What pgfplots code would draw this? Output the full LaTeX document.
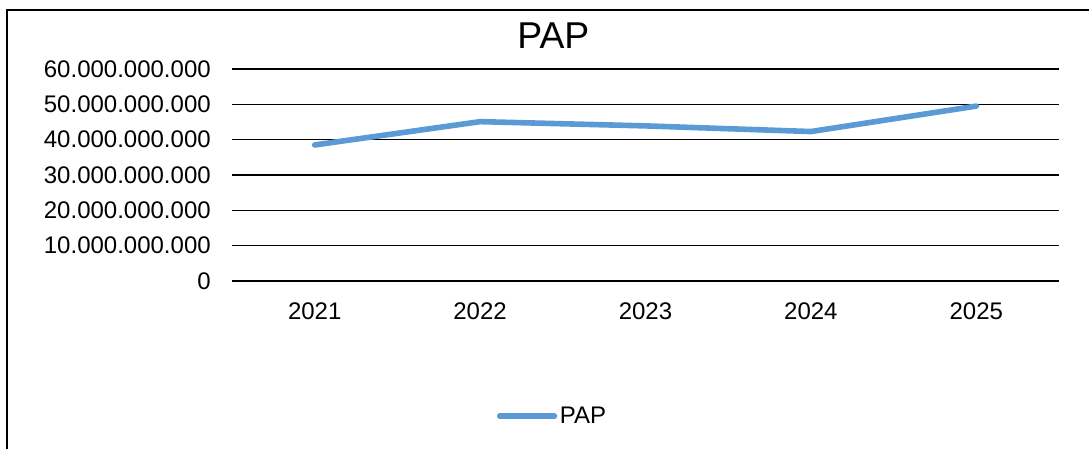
\documentclass[border=0pt]{standalone}
\usepackage{fontspec}
\setmainfont{Liberation Sans}
\usepackage{pgfplots}
\pgfplotsset{compat=1.18}
\definecolor{pap}{HTML}{5B9BD5}
\begin{document}
\begin{tikzpicture}
\useasboundingbox (0,0) rectangle (816.75pt,-336.75pt);
\draw[line width=1.2pt] (5.25pt,-336.75pt) -- (5.25pt,-7.5pt) -- (816.75pt,-7.5pt);
\node[font=\fontsize{28}{32}\selectfont, inner sep=0pt] at (415pt,-27pt) {PAP};
\begin{axis}[
  at={(174pt,-210.75pt)}, anchor=south west,
  scale only axis, width=620.25pt, height=159pt,
  xmin=-0.5, xmax=4.5, ymin=0, ymax=6e10,
  axis line style={draw=none},
  tick style={draw=none},
  major tick length=0pt,
  xtick={0,1,2,3,4},
  xticklabels={2021,2022,2023,2024,2025},
  ytick={0,1e10,2e10,3e10,4e10,5e10,6e10},
  yticklabels={0,10.000.000.000,20.000.000.000,30.000.000.000,40.000.000.000,50.000.000.000,60.000.000.000},
  scaled y ticks=false,
  ymajorgrids,
  grid style={black, line width=1pt},
  tick label style={font=\fontsize{18}{21}\selectfont},
  yticklabel style={inner sep=0pt, xshift=-15.75pt},
  xticklabel style={inner sep=0pt, yshift=-16pt},
  legend style={at={(0.388,-0.637)}, anchor=center, draw=none, fill=none,
    font=\fontsize{18}{21}\selectfont, inner sep=0pt},
  legend cell align=left,
  legend image code/.code={\draw[#1] (0pt,0pt) -- (41pt,0pt);},
  clip=false,
]
\addplot[color=pap, line width=4.2pt, line cap=round, line join=round]
  coordinates {(0,38500000000) (1,45100000000) (2,43900000000) (3,42300000000) (4,49500000000)};
\addlegendentry{PAP}
\end{axis}
\end{tikzpicture}
\end{document}
